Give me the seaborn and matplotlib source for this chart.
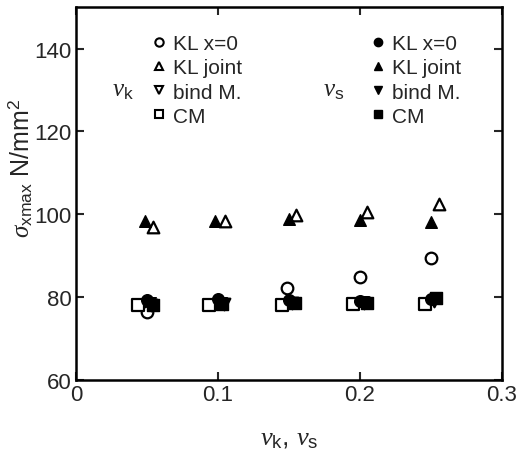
import matplotlib
matplotlib.use("Agg")
import matplotlib.pyplot as plt
from matplotlib.lines import Line2D
import seaborn as sns
import pandas as pd

# ---- data ----
# nu_k series (open markers)
k_circle_x = [0.050, 0.100, 0.149, 0.200, 0.250]
k_circle_y = [76.5, 79.0, 82.3, 84.9, 89.5]
k_tri_x = [0.054, 0.105, 0.155, 0.205, 0.256]
k_tri_y = [97.0, 98.4, 99.8, 100.5, 102.4]
k_down_x = [0.053, 0.104, 0.152, 0.203, 0.252]
k_down_y = [78.2, 78.4, 78.5, 78.6, 79.0]
k_sq_x = [0.044, 0.094, 0.145, 0.195, 0.246]
k_sq_y = [78.0, 78.0, 78.1, 78.3, 78.3]
# nu_s series (filled markers)
s_circle_x = [0.050, 0.100, 0.150, 0.200, 0.250]
s_circle_y = [79.3, 79.5, 79.2, 79.0, 79.5]
s_tri_x = [0.049, 0.098, 0.150, 0.200, 0.250]
s_tri_y = [98.3, 98.4, 98.8, 98.6, 98.1]
s_down_x = [0.052, 0.102, 0.152, 0.202, 0.252]
s_down_y = [78.5, 78.6, 78.7, 78.8, 79.3]
s_sq_x = [0.054, 0.103, 0.154, 0.205, 0.254]
s_sq_y = [78.2, 78.3, 78.7, 78.7, 79.9]

labels = ["KL x=0", "KL joint", "bind M.", "CM"]
markers = ["o", "^", "v", "s"]
x_ticks = [0, 0.1, 0.2, 0.3]
x_ticklabels = ["0", "0.1", "0.2", "0.3"]
y_ticks = [60, 80, 100, 120, 140]

sns.set_style("ticks")
plt.rcParams["font.family"] = ["Liberation Sans", "DejaVu Sans"]
plt.rcParams["mathtext.fontset"] = "custom"
plt.rcParams["mathtext.rm"] = "Liberation Sans"
plt.rcParams["mathtext.it"] = "Liberation Serif:italic"

fig = plt.figure(figsize=(5.2, 4.52), dpi=100)
ax = fig.add_axes([0.146, 0.157, 0.819, 0.825])

open_sets = [(k_circle_x, k_circle_y), (k_tri_x, k_tri_y), (k_down_x, k_down_y), (k_sq_x, k_sq_y)]
fill_sets = [(s_circle_x, s_circle_y), (s_tri_x, s_tri_y), (s_down_x, s_down_y), (s_sq_x, s_sq_y)]

msize = 70
for (xs, ys), m in zip(fill_sets, markers):
    sns.scatterplot(x=xs, y=ys, marker=m, s=msize, color="black",
                    edgecolor="black", linewidth=1.0, ax=ax, legend=False, zorder=3)
for (xs, ys), m in zip(open_sets, markers):
    sns.scatterplot(x=xs, y=ys, marker=m, s=msize, facecolor="white",
                    edgecolor="black", linewidth=1.6, ax=ax, legend=False, zorder=2)

ax.set_xlim(0, 0.3)
ax.set_ylim(60, 150)
ax.set_xticks(x_ticks)
ax.set_xticklabels(x_ticklabels)
ax.set_yticks(y_ticks)
ax.tick_params(direction="in", top=True, right=True, labelsize=16, width=1.5, length=6, pad=3)
for sp in ax.spines.values():
    sp.set_linewidth(1.8)
    sp.set_color("black")

ax.set_xlabel(r"$\nu_{\rm k}$, $\nu_{\rm s}$", fontsize=19, labelpad=15)
ax.set_ylabel(r"$\sigma_{\rm xmax}$ N/mm$^2$", fontsize=18)
ax.yaxis.set_label_coords(-0.095, 0.57)

open_handles = [Line2D([], [], linestyle="", marker=m, markersize=6, markerfacecolor="white",
                       markeredgecolor="black", markeredgewidth=1.5) for m in markers]
fill_handles = [Line2D([], [], linestyle="", marker=m, markersize=6, markerfacecolor="black",
                       markeredgecolor="black") for m in markers]

leg_kw = dict(loc="upper left", frameon=False, fontsize=15, handletextpad=0.1,
              labelspacing=0.25, handlelength=1.2, borderaxespad=0)
leg1 = ax.legend(open_handles, labels, bbox_to_anchor=(0.145, 0.95), **leg_kw)
ax.add_artist(leg1)
ax.legend(fill_handles, labels, bbox_to_anchor=(0.66, 0.95), **leg_kw)

ax.text(0.11, 0.78, r"$\nu_{\rm k}$", transform=ax.transAxes, fontsize=18, va="center", ha="center")
ax.text(0.605, 0.78, r"$\nu_{\rm s}$", transform=ax.transAxes, fontsize=18, va="center", ha="center")

fig.savefig("out.png", dpi=100)
